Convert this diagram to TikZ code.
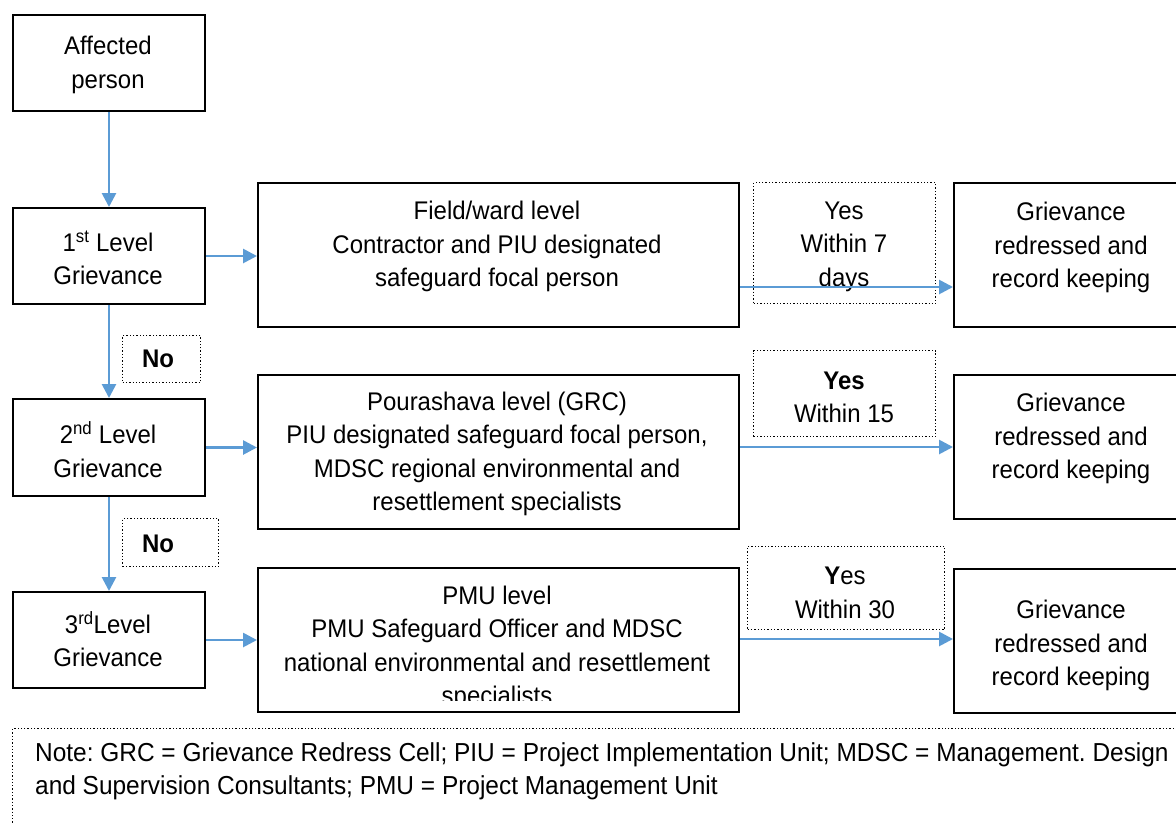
\documentclass[tikz,border=0pt]{standalone}
\usepackage{fontspec}
\setmainfont[FakeStretch=0.94]{Liberation Sans}
\usetikzlibrary{arrows.meta}
\definecolor{arrblue}{RGB}{91,155,213}
\frenchspacing
\begin{document}
\begin{tikzpicture}[x=1pt,y=-1pt,
  box/.style={draw=black, line width=2pt, inner sep=0pt, anchor=north west},
  dotbox/.style={draw=black, dotted, line width=1.3pt, inner sep=0pt, anchor=north west},
  txt/.style={align=center, font=\fontsize{25.5}{33.5}\selectfont, inner sep=0pt},
  notetxt/.style={align=left, font=\fontsize{26}{33}\selectfont, inner sep=0pt, anchor=west},
  arr/.style={draw=arrblue, line width=2.7pt, -{Triangle[length=14pt,width=14pt]}}]
\clip (0,0) rectangle (1176,823);
\fill[white] (0,0) rectangle (1176,823);

% left column
\node[box, minimum width=192pt, minimum height=96pt] (ap) at (12,14) {};
\node[txt] (apt) at (108,65) {Affected\\person};
\node[box, minimum width=192pt, minimum height=96pt] (l1) at (12,207) {};
\node[txt] (l1t) at (108,258) {1\textsuperscript{st} Level\\Grievance};
\node[box, minimum width=192pt, minimum height=97pt] (l2) at (12,398) {};
\node[txt] (l2t) at (108,449.5) {2\textsuperscript{nd} Level\\Grievance};
\node[box, minimum width=192pt, minimum height=96pt] (l3) at (12,591) {};
\node[txt] (l3t) at (108,639) {3\textsuperscript{rd}Level\\Grievance};

% No boxes
\node[dotbox, minimum width=78pt, minimum height=47pt] (no1) at (122,335) {};
\node[txt, font=\fontsize{25.5}{33.5}\selectfont\bfseries] (no1t) at (158,359) {No};
\node[dotbox, minimum width=96pt, minimum height=48pt] (no2) at (122,518) {};
\node[txt, font=\fontsize{25.5}{33.5}\selectfont\bfseries] (no2t) at (158,544) {No};

% middle column
\node[box, minimum width=481pt, minimum height=144pt] (field) at (257,182) {};
\node[txt] (fieldt) at (497,246.5) {Field/ward level\\Contractor and PIU designated\\safeguard focal person};
\node[box, minimum width=481pt, minimum height=154pt] (pour) at (257,374) {};
\node[txt] (pourt) at (497,454) {Pourashava level (GRC)\\PIU designated safeguard focal person,\\MDSC regional environmental and\\resettlement specialists};
\node[box, minimum width=481pt, minimum height=144pt] (pmu) at (257,567) {};
\begin{scope}
\clip (258,568) rectangle (737,700);
\node[txt] (pmut) at (497,648) {PMU level\\PMU Safeguard Officer and MDSC\\national environmental and resettlement\\specialists};
\end{scope}

% Yes boxes
\node[dotbox, minimum width=182pt, minimum height=121pt] (y1) at (753,182) {};
\node[txt] (y1t) at (844,246.5) {Yes\\Within 7\\days};
\node[dotbox, minimum width=182pt, minimum height=86pt] (y2) at (753,350) {};
\node[txt] (y2t) at (844,397.5) {\textbf{Yes}\\Within 15};
\node[dotbox, minimum width=197pt, minimum height=83pt] (y3) at (747,546) {};
\node[txt] (y3t) at (845,593) {\textbf{Y}es\\Within 30};

% right column
\node[box, minimum width=240pt, minimum height=144pt] (g1) at (953,182) {};
\node[txt] (g1t) at (1071,247.5) {Grievance\\redressed and\\record keeping};
\node[box, minimum width=240pt, minimum height=144pt] (g2) at (953,374) {};
\node[txt] (g2t) at (1071,438.5) {Grievance\\redressed and\\record keeping};
\node[box, minimum width=240pt, minimum height=144pt] (g3) at (953,568) {};
\node[txt] (g3t) at (1071,645.5) {Grievance\\redressed and\\record keeping};

% note
\node[dotbox, minimum width=1200pt, minimum height=200pt] (note) at (12,728) {};
\node[notetxt] (notet) at (35,771) {Note: GRC = Grievance Redress Cell; PIU = Project Implementation Unit; MDSC = Management. Design\\and Supervision Consultants; PMU = Project Management Unit};

% connectors
\coordinate (r1) at (0,287);
\coordinate (r2) at (0,447);
\coordinate (r3) at (0,639);
\draw[arr] (ap.south) -- (l1.north);
\draw[arr] (l1.south) -- (l2.north);
\draw[arr] (l2.south) -- (l3.north);
\draw[arr] (l1.east) -- (field.west |- l1.east);
\draw[arr] (l2.east) -- (pour.west |- l2.east);
\draw[arr] (l3.east) -- (pmu.west |- l3.east);
\draw[arr] (field.east |- r1) -- (g1.west |- r1);
\draw[arr] (pour.east |- r2) -- (g2.west |- r2);
\draw[arr] (pmu.east |- r3) -- (g3.west |- r3);
\end{tikzpicture}
\end{document}
